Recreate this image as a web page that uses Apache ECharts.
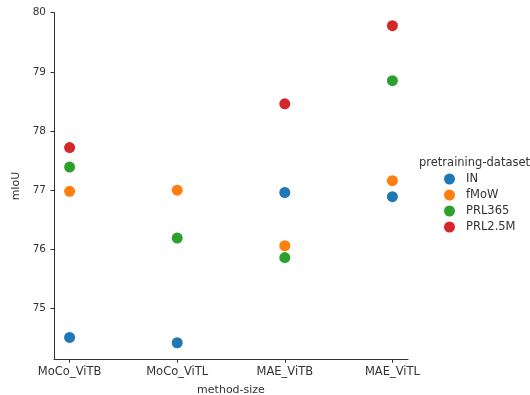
<!DOCTYPE html>
<html>
<head>
<meta charset="utf-8">
<script src="https://cdn.jsdelivr.net/npm/echarts@6/dist/echarts.min.js"></script>
<style>
html,body{margin:0;padding:0;background:#fff;}
#chart{width:530px;height:395px;}
</style>
</head>
<body>
<div id="chart"></div>
<script>
const categories = ['MoCo_ViTB', 'MoCo_ViTL', 'MAE_ViTB', 'MAE_ViTL'];
const seriesNames = ['IN', 'fMoW', 'PRL365', 'PRL2.5M'];
const valuesIN = [74.51, 74.42, 76.96, 76.89];
const valuesFMoW = [76.98, 77.00, 76.06, 77.16];
const valuesPRL365 = [77.39, 76.19, 75.86, 78.85];
const valuesPRL25M = [77.72, null, 78.46, 79.78];
const yTicks = [75, 76, 77, 78, 79, 80];
const colors = ['#1f77b4', '#ff7f0e', '#2ca02c', '#d62728'];

const allValues = [valuesIN, valuesFMoW, valuesPRL365, valuesPRL25M];
const FONT = 'DejaVu Sans';

const chart = echarts.init(document.getElementById('chart'), null, {renderer: 'canvas'});
chart.setOption({
  animation: false,
  backgroundColor: '#ffffff',
  textStyle: {fontFamily: FONT},
  title: {
    text: 'pretraining-dataset',
    left: 414, top: 152,
    textStyle: {fontFamily: FONT, fontSize: 11.5, fontWeight: 'normal', color: '#333'}
  },
  legend: {
    orient: 'vertical',
    left: 439, top: 168,
    itemWidth: 11, itemHeight: 11, itemGap: 4,
    icon: 'circle',
    data: seriesNames,
    textStyle: {fontFamily: FONT, fontSize: 11.5, color: '#333', padding: [0, 0, 0, 6]}
  },
  grid: {left: 54, right: 122, top: 12.7, bottom: 35.7, containLabel: false, outerBoundsMode: 'none'},
  xAxis: {
    type: 'value',
    min: -0.145, max: 3.145,
    name: 'method-size',
    nameLocation: 'middle',
    nameGap: 25,
    nameTextStyle: {fontFamily: FONT, fontSize: 11, color: '#333'},
    axisLine: {show: true, onZero: false, lineStyle: {color: '#333', width: 1}},
    axisTick: {show: true, customValues: [0, 1, 2, 3], length: 3.5, lineStyle: {color: '#333'}},
    axisLabel: {
      customValues: [0, 1, 2, 3],
      formatter: v => categories[Math.round(v)],
      fontFamily: FONT, fontSize: 11.5, color: '#333', margin: 7
    },
    splitLine: {show: false}
  },
  yAxis: {
    type: 'value',
    min: 74.14, max: 80,
    name: 'mIoU',
    nameLocation: 'middle',
    nameGap: 29,
    nameTextStyle: {fontFamily: FONT, fontSize: 11, color: '#333'},
    axisLine: {show: true, onZero: false, lineStyle: {color: '#333', width: 1}},
    axisTick: {show: true, customValues: yTicks, length: 3.5, lineStyle: {color: '#333'}},
    axisLabel: {customValues: yTicks, fontFamily: FONT, fontSize: 10.5, color: '#333', margin: 8},
    splitLine: {show: false}
  },
  series: seriesNames.map((n, si) => ({
    name: n,
    type: 'scatter',
    symbol: 'circle',
    symbolSize: 11,
    itemStyle: {color: colors[si], opacity: 1},
    data: allValues[si].map((v, i) => [i, v]).filter(d => d[1] !== null)
  }))
});
</script>
</body>
</html>
